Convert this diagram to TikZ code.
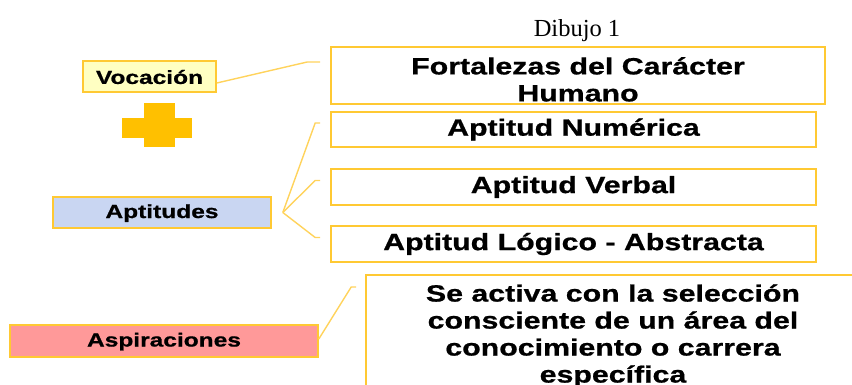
\documentclass[tikz,border=0pt]{standalone}
\usepackage{fontspec}
\usepackage{xcolor}
\usepackage{tikz}

\newfontfamily\boxfont{Liberation Sans}[FakeStretch=1.29,FakeBold=0.8]
\newfontfamily\titlefont{Liberation Serif}

\definecolor{gold}{HTML}{FFC933}
\definecolor{linkgold}{HTML}{FFD35C}
\definecolor{plusgold}{HTML}{FFC000}
\definecolor{vocfill}{HTML}{FFFFC2}
\definecolor{aptfill}{HTML}{C9D6F2}
\definecolor{aspfill}{HTML}{FF9999}

\newcommand{\toplift}[1]{\rule{0pt}{#1}}

\begin{document}
\begin{tikzpicture}[x=1pt,y=-1pt,
    label box/.style={draw=gold, line width=1.6pt, inner sep=0pt, text height=15pt,
        font=\boxfont\bfseries\fontsize{19}{22}\selectfont},
    big box/.style={draw=gold, line width=1.6pt, inner sep=0pt, fill=white,
        align=center, font=\boxfont\bfseries\fontsize{23.5}{27}\selectfont},
    link/.style={draw=linkgold, line width=1.4pt}]
    \useasboundingbox (0,0) rectangle (852,385);
    \clip (0,0) rectangle (852,385);

    % Title
    \node[font=\titlefont\fontsize{24.5}{28}\selectfont, anchor=base] (title) at (577,37) {Dibujo 1};

    % Left labels
    \node[label box, fill=vocfill, minimum width=133pt, minimum height=31pt] (voc) at (149.5,76.5) {Vocación};
    \node[label box, fill=aptfill, minimum width=218pt, minimum height=31pt] (apt) at (162,212.5) {Aptitudes};
    \node[label box, fill=aspfill, minimum width=308pt, minimum height=32pt] (asp) at (164,341) {Aspiraciones};

    % Plus sign
    \fill[plusgold] (122,118) rectangle (192,138);
    \fill[plusgold] (144,103) rectangle (175,147);

    % Right boxes
    \node[big box, minimum width=494pt, minimum height=57pt] (fort) at (578,75.5) {\toplift{25pt}Fortalezas del Carácter\\Humano};
    \node[big box, minimum width=485pt, minimum height=35pt] (num) at (573.5,129.5) {Aptitud Numérica};
    \node[big box, minimum width=485pt, minimum height=36pt] (verb) at (573.5,187) {Aptitud Verbal};
    \node[big box, minimum width=485pt, minimum height=36pt] (logi) at (573.5,244) {Aptitud Lógico - Abstracta};
    \node[big box, minimum width=494pt, minimum height=118pt] (act) at (613,334)
        {\toplift{21pt}Se activa con la selección\\consciente de un área del\\conocimiento o carrera\\específica};

    % Connectors
    \draw[link] ([yshift=-6.5pt]voc.east) -- ([xshift=-23pt,yshift=13.5pt]fort.west)
        -- ([xshift=-10pt,yshift=13.5pt]fort.west);
    \coordinate (aptout) at ([xshift=11pt]apt.east);
    \foreach \t in {num,verb,logi} {
        \draw[link] (aptout) -- ([xshift=-15pt,yshift=6.5pt]\t.west)
            -- ([xshift=-10pt,yshift=6.5pt]\t.west);
    }
    \draw[link] ([yshift=2pt]asp.east) -- ([xshift=-14pt,yshift=47pt]act.west)
        -- ([xshift=-9pt,yshift=47pt]act.west);
\end{tikzpicture}
\end{document}
